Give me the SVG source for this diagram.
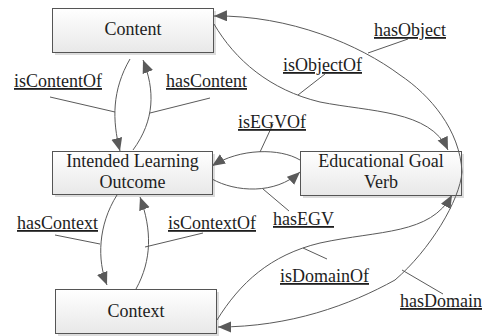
<svg xmlns="http://www.w3.org/2000/svg" width="485" height="336" viewBox="0 0 485 336">
<defs>
<linearGradient id="boxfill" x1="0" y1="0" x2="0" y2="1">
<stop offset="0" stop-color="#ffffff"/>
<stop offset="1" stop-color="#e8e8e8"/>
</linearGradient>
<marker id="arr" markerUnits="userSpaceOnUse" markerWidth="14" markerHeight="12" refX="13" refY="5.5" orient="auto">
<path d="M0,0 L13,5.5 L0,11 z" fill="#5a5a5a"/>
</marker>
<style>
.box{fill:url(#boxfill);stroke:#555;stroke-width:1}
.shadow{fill:#dcdcdc}
.t{text-anchor:middle}
.c{fill:none;stroke:#5a5a5a;stroke-width:1}
.a{marker-end:url(#arr)}
</style>
</defs>
<g id="content" font-family="Liberation Serif, serif" font-size="18" fill="#1e1e1e">
<rect class="shadow" x="55" y="11" width="161" height="44"/>
<rect class="box" x="52.5" y="8.5" width="161" height="44"/>
<text class="t" x="133" y="35">Content</text>
</g>
<g id="ilo" font-family="Liberation Serif, serif" font-size="18" fill="#1e1e1e">
<rect class="shadow" x="55" y="154" width="160" height="43"/>
<rect class="box" x="52.5" y="151.5" width="160" height="43"/>
<text class="t" x="132.5" y="167">Intended Learning</text>
<text class="t" x="132.5" y="188">Outcome</text>
</g>
<g id="egv" font-family="Liberation Serif, serif" font-size="18" fill="#1e1e1e">
<rect class="shadow" x="303" y="154" width="161" height="44"/>
<rect class="box" x="300.5" y="151.5" width="161" height="44"/>
<text class="t" x="381" y="167">Educational Goal</text>
<text class="t" x="381" y="188">Verb</text>
</g>
<g id="context" font-family="Liberation Serif, serif" font-size="18" fill="#1e1e1e">
<rect class="shadow" x="58" y="292" width="161" height="44"/>
<rect class="box" x="55.5" y="289.5" width="161" height="44"/>
<text class="t" x="136" y="317">Context</text>
</g>
<g id="connectors">
<path class="c a" d="M130,59 C112,90 112,120 120,151"/>
<path class="c a" d="M133,150 C155,120 155,90 143,60"/>
<path class="c a" d="M214,24 C235,60 270,90 320,102 C370,112 430,110 448,150"/>
<path class="c a" d="M462,172 C460,130 430,95 400,75 C360,45 290,15 214,16"/>
<path class="c a" d="M300,160 C280,148 240,148 212,166"/>
<path class="c a" d="M212,179 C235,192 275,195 300,172"/>
<path class="c a" d="M117,195 C98,225 97,260 107,285"/>
<path class="c a" d="M136,289 C152,260 152,230 140,197"/>
<path class="c a" d="M217,320 C240,283 270,255 320,243 C380,230 430,235 452,195"/>
<path class="c a" d="M462,172 C460,200 430,250 395,280 C350,305 290,327 218,327"/>
<path class="c" d="M50,97 L115,112"/>
<path class="c" d="M210,98 L150,113"/>
<path class="c" d="M408,39 L368,53"/>
<path class="c" d="M325,74 L298,95"/>
<path class="c" d="M273,124 L260,152"/>
<path class="c" d="M289,211 L263,189"/>
<path class="c" d="M55,235 L100,244"/>
<path class="c" d="M203,233 L145,247"/>
<path class="c" d="M327,259 L303,248"/>
<path class="c" d="M443,294 L402,270"/>
</g>
<g id="labels" font-family="Liberation Serif, serif" font-size="18" fill="#1e1e1e" text-decoration="underline">
<text x="14" y="87">isContentOf</text>
<text x="166" y="87">hasContent</text>
<text x="374" y="36">hasObject</text>
<text x="283" y="71">isObjectOf</text>
<text x="238" y="128">isEGVOf</text>
<text x="273" y="225">hasEGV</text>
<text x="17" y="229">hasContext</text>
<text x="168" y="229">isContextOf</text>
<text x="280" y="282">isDomainOf</text>
<text x="400" y="307">hasDomain</text>
</g>
</svg>
